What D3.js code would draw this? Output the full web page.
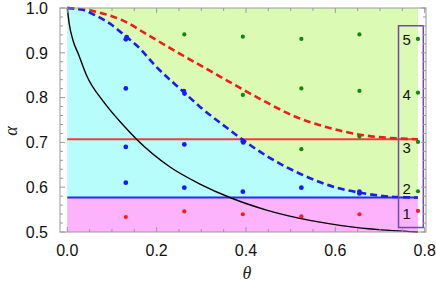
<!DOCTYPE html>
<html>
<head>
<meta charset="utf-8">
<script src="https://cdn.jsdelivr.net/npm/d3@7/dist/d3.min.js"></script>
<style>
  body { margin: 0; background: #fff; }
  text { font-family: "Liberation Sans", Arial, sans-serif; }
</style>
</head>
<body>
<div id="chart"></div>
<script>
// Data
var thetaMax = 0.785, alphaLow = 0.577, alphaMid = 0.707;

// blue dashed boundary (theta, alpha)
var blueTheta = [0, 0.03, 0.06, 0.1, 0.133, 0.155, 0.2, 0.26, 0.3, 0.35, 0.394, 0.454, 0.528, 0.61, 0.654, 0.693, 0.737, 0.785];
var blueAlpha = [1, 0.997, 0.985, 0.962, 0.935, 0.917, 0.868, 0.813, 0.777, 0.738, 0.705, 0.665, 0.627, 0.597, 0.588, 0.582, 0.578, 0.577];

// red dashed curve
var redTheta = [0, 0.058, 0.096, 0.133, 0.17, 0.245, 0.319, 0.372, 0.439, 0.514, 0.588, 0.663, 0.737, 0.785];
var redAlpha = [1, 0.993, 0.983, 0.968, 0.946, 0.902, 0.86, 0.83, 0.793, 0.756, 0.732, 0.716, 0.709, 0.707];

// black solid curve
var blackTheta = [0, 0.0045, 0.013, 0.025, 0.043, 0.081, 0.096, 0.122, 0.155, 0.23, 0.297, 0.364, 0.446, 0.543, 0.64, 0.73, 0.785];
var blackAlpha = [1, 0.964, 0.927, 0.897, 0.85, 0.791, 0.772, 0.742, 0.707, 0.645, 0.607, 0.577, 0.549, 0.526, 0.511, 0.503, 0.5];

// sample points
var ptTheta = [0.131, 0.133, 0.131, 0.131, 0.131, 0.131,
               0.262, 0.261, 0.2625, 0.262, 0.262, 0.262,
               0.393, 0.393, 0.393, 0.394, 0.393, 0.393,
               0.524, 0.524, 0.524, 0.524, 0.524,
               0.654, 0.654, 0.654, 0.654, 0.654, 0.654,
               0.785, 0.785, 0.785, 0.785, 0.785];
var ptAlpha = [0.930, 0.935, 0.8205, 0.690, 0.610, 0.5335,
               0.941, 0.8145, 0.809, 0.6954, 0.599, 0.546,
               0.936, 0.806, 0.7027, 0.700, 0.590, 0.5396,
               0.931, 0.8205, 0.6848, 0.599, 0.535,
               0.941, 0.815, 0.713, 0.590, 0.586, 0.5396,
               0.931, 0.811, 0.701, 0.591, 0.547];
var ptClass = ["b", "b", "b", "b", "b", "r",
               "g", "b", "b", "b", "b", "r",
               "g", "g", "b", "b", "b", "r",
               "g", "g", "g", "b", "r",
               "g", "g", "g", "b", "b", "r",
               "g", "g", "g", "g", "r"];

// numbered box on the right
var boxTheta = [0.7415, 0.797], boxAlpha = [0.510, 0.9604];
var boxLabels = ["1", "2", "3", "4", "5"];
var boxLabelAlpha = [0.542, 0.596, 0.689, 0.807, 0.930];
var boxLabelTheta = 0.760;

var xTicks = [0, 0.2, 0.4, 0.6, 0.8];
var yTicks = [0.5, 0.6, 0.7, 0.8, 0.9, 1.0];

var W = 436, H = 283;
var margin = {top: 8, right: 10, bottom: 51, left: 60};

var svg = d3.select("#chart").append("svg")
    .attr("width", W).attr("height", H);

var x = d3.scaleLinear().domain([-0.0163, 0.803]).range([margin.left, W - margin.right]);
var y = d3.scaleLinear().domain([0.5, 1]).range([H - margin.bottom, margin.top]);

var dotColor = {r: "#ff1a1a", b: "#1a1aff", g: "#0d8a0d"};

// background regions
svg.append("rect")
    .attr("x", x(0)).attr("y", y(1))
    .attr("width", x(thetaMax) - x(0)).attr("height", y(0.5) - y(1))
    .attr("fill", "#dbfab3");

var blueData = blueTheta.map(function(t, i) { return [t, blueAlpha[i]]; });
var redData = redTheta.map(function(t, i) { return [t, redAlpha[i]]; });
var blackData = blackTheta.map(function(t, i) { return [t, blackAlpha[i]]; });

svg.append("path")
    .datum(blueData)
    .attr("fill", "#b7fdfc")
    .attr("d", d3.area()
        .x(function(d) { return x(d[0]); })
        .y0(y(alphaLow))
        .y1(function(d) { return y(d[1]); })
        .curve(d3.curveMonotoneX));

svg.append("rect")
    .attr("x", x(0)).attr("y", y(alphaLow))
    .attr("width", x(thetaMax) - x(0)).attr("height", y(0.5) - y(alphaLow))
    .attr("fill", "#fdb3fc");

// horizontal lines
svg.append("line")
    .attr("x1", x(0)).attr("x2", x(thetaMax))
    .attr("y1", y(alphaMid)).attr("y2", y(alphaMid))
    .attr("stroke", "#f03c3c").attr("stroke-width", 1.8);
svg.append("line")
    .attr("x1", x(0)).attr("x2", x(thetaMax))
    .attr("y1", y(alphaLow)).attr("y2", y(alphaLow))
    .attr("stroke", "#2a2af0").attr("stroke-width", 1.8);

var line = d3.line()
    .x(function(d) { return x(d[0]); })
    .y(function(d) { return y(d[1]); })
    .curve(d3.curveMonotoneX);

svg.append("path").datum(blackData)
    .attr("fill", "none").attr("stroke", "#000").attr("stroke-width", 1.4)
    .attr("d", line);

svg.append("path").datum(redData)
    .attr("fill", "none").attr("stroke", "#ee1c1c").attr("stroke-width", 2.6)
    .attr("stroke-dasharray", "7,4")
    .attr("d", line);

svg.append("path").datum(blueData)
    .attr("fill", "none").attr("stroke", "#1c1cee").attr("stroke-width", 2.6)
    .attr("stroke-dasharray", "7,4")
    .attr("d", line);

// points
svg.append("g").selectAll("circle")
    .data(ptTheta)
    .enter().append("circle")
    .attr("cx", function(d) { return x(d); })
    .attr("cy", function(d, i) { return y(ptAlpha[i]); })
    .attr("r", function(d, i) { return ptClass[i] == "b" ? 2.4 : 2.1; })
    .attr("fill", function(d, i) { return dotColor[ptClass[i]]; });

// numbered box
svg.append("rect")
    .attr("x", x(boxTheta[0])).attr("y", y(boxAlpha[1]))
    .attr("width", x(boxTheta[1]) - x(boxTheta[0]))
    .attr("height", y(boxAlpha[0]) - y(boxAlpha[1]))
    .attr("fill", "none").attr("stroke", "#7448a8").attr("stroke-width", 1.5);

svg.append("g").selectAll("text")
    .data(boxLabels)
    .enter().append("text")
    .attr("x", x(boxLabelTheta))
    .attr("y", function(d, i) { return y(boxLabelAlpha[i]); })
    .attr("dy", "0.36em")
    .attr("text-anchor", "middle")
    .style("font-size", "15px")
    .attr("fill", "#111")
    .text(function(d) { return d; });

// frame and ticks
var frameColor = "#9a9a9a";
var x0 = x.range()[0], x1 = x.range()[1], y0 = y.range()[0], y1 = y.range()[1];
svg.append("rect")
    .attr("x", x0).attr("y", y1).attr("width", x1 - x0).attr("height", y0 - y1)
    .attr("fill", "none").attr("stroke", frameColor).attr("stroke-width", 1);

var xMinor = d3.range(0, 0.801, 0.05), yMinor = d3.range(0.5, 1.001, 0.02);
var tk = svg.append("g").attr("stroke", frameColor).attr("stroke-width", 1);
xMinor.forEach(function(v) {
    var major = xTicks.some(function(t) { return Math.abs(t - v) < 1e-6; });
    var len = major ? 5 : 3;
    tk.append("line").attr("x1", x(v)).attr("x2", x(v)).attr("y1", y0).attr("y2", y0 - len);
    tk.append("line").attr("x1", x(v)).attr("x2", x(v)).attr("y1", y1).attr("y2", y1 + len);
});
yMinor.forEach(function(v) {
    var major = yTicks.some(function(t) { return Math.abs(t - v) < 1e-6; });
    var len = major ? 5 : 3;
    tk.append("line").attr("x1", x0).attr("x2", x0 + len).attr("y1", y(v)).attr("y2", y(v));
    tk.append("line").attr("x1", x1).attr("x2", x1 - len).attr("y1", y(v)).attr("y2", y(v));
});

svg.append("g").selectAll("text")
    .data(xTicks)
    .enter().append("text")
    .attr("x", function(d) { return x(d); })
    .attr("y", y0 + 24)
    .attr("text-anchor", "middle")
    .style("font-size", "16px")
    .attr("fill", "#111")
    .text(d3.format(".1f"));

svg.append("g").selectAll("text")
    .data(yTicks)
    .enter().append("text")
    .attr("x", x0 - 12)
    .attr("y", function(d) { return y(d); })
    .attr("dy", "0.36em")
    .attr("text-anchor", "end")
    .style("font-size", "16px")
    .attr("fill", "#111")
    .text(d3.format(".1f"));

// axis labels
svg.append("text")
    .attr("x", (x0 + x1) / 2 + 4).attr("y", 279)
    .attr("text-anchor", "middle")
    .style("font-family", "'Liberation Serif', serif")
    .style("font-style", "italic")
    .style("font-size", "18px")
    .attr("fill", "#222")
    .text("θ");

svg.append("text")
    .attr("transform", "translate(17," + 131 + ") rotate(-90)")
    .attr("text-anchor", "middle")
    .style("font-family", "'Liberation Serif', serif")
    .style("font-style", "italic")
    .style("font-size", "18px")
    .attr("fill", "#222")
    .text("α");
</script>
</body>
</html>
